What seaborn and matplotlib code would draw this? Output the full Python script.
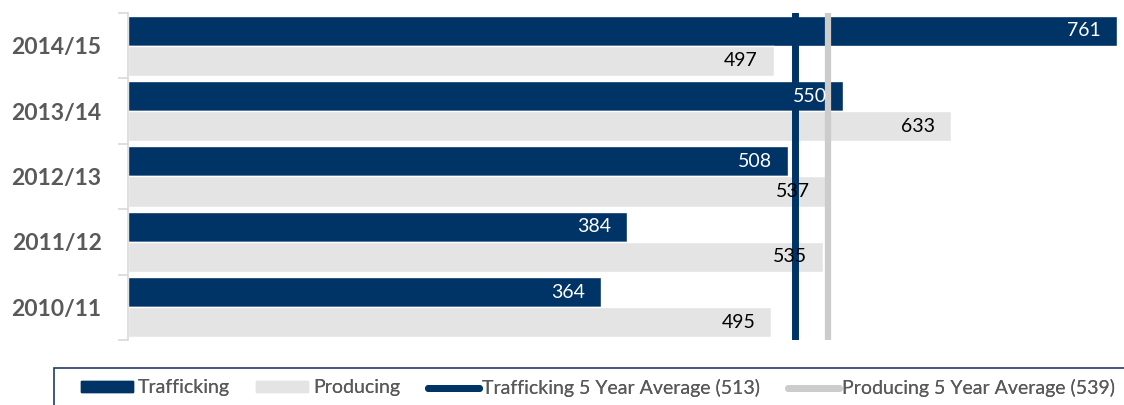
import matplotlib
matplotlib.use("Agg")
import matplotlib.pyplot as plt
import seaborn as sns
import pandas as pd
import numpy as np
from matplotlib.patches import Patch, Rectangle
from matplotlib.lines import Line2D

years = ["2014/15", "2013/14", "2012/13", "2011/12", "2010/11"]
trafficking = [761, 550, 508, 384, 364]
producing = [497, 633, 537, 535, 495]
series = ["Trafficking", "Producing"]
traff_avg = 513
prod_avg = 539
legend_labels = ["Trafficking", "Producing",
                 "Trafficking 5 Year Average (513)", "Producing 5 Year Average (539)"]

NAVY = "#003366"
LGRAY = "#e4e4e4"
AVGGRAY = "#cccccc"
TXT = "#595959"

df = pd.DataFrame({
    "year": years * 2,
    "value": trafficking + producing,
    "series": [series[0]] * len(years) + [series[1]] * len(years),
})

sns.set_theme(style="white")
plt.rcParams["font.family"] = ["Lato", "DejaVu Sans"]

W, H = 1124, 405
fig = plt.figure(figsize=(W / 100, H / 100), dpi=100)
ax = fig.add_axes([128 / W, 1 - 340 / H, (1117 - 128) / W, (340 - 13) / H])

sns.barplot(data=df, y="year", x="value", hue="series", order=years,
            hue_order=series, palette=[NAVY, LGRAY], orient="h",
            width=0.92, ax=ax, legend=False, saturation=1)

for cont, col in zip(ax.containers, ["white", "black"]):
    for bar, v in zip(cont.patches, cont.datavalues):
        ax.annotate(f"{int(v)}", xy=(bar.get_x() + bar.get_width(), bar.get_y() + bar.get_height() / 2),
                    xytext=(-11.5, 0), textcoords="offset points", ha="right", va="center",
                    color=col, fontsize=14, zorder=10)

ax.axvline(traff_avg, color=NAVY, lw=5, solid_capstyle="round", zorder=5)
ax.axvline(prod_avg, color=AVGGRAY, lw=4.5, solid_capstyle="round", zorder=4)

ax.set_xlim(0, 761)
ax.set_ylim(4.5, -0.5)
ax.set_xlabel("")
ax.set_ylabel("")
ax.set_xticks([])
for s in ["top", "right", "bottom"]:
    ax.spines[s].set_visible(False)
ax.spines["left"].set_color("#d9d9d9")
ax.spines["left"].set_linewidth(1.2)
ax.set_yticks(range(len(years)))
ax.set_yticklabels(years, fontsize=16.5, fontweight="bold", color=TXT)
ax.tick_params(axis="y", which="major", left=True, length=0, pad=19)
ax.set_yticks(np.arange(-0.5, len(years), 1.0), minor=True)
ax.tick_params(axis="y", which="minor", left=True, length=7, width=1.2,
               color="#d9d9d9", direction="out")

# legend frame
fig.add_artist(Rectangle((54 / W, -0.05), 1.1, (1 - 368 / H) + 0.05, transform=fig.transFigure,
                         facecolor="white", edgecolor="#1f3c66", lw=1.2))

handles = [
    Patch(facecolor=NAVY, edgecolor=NAVY),
    Patch(facecolor=LGRAY, edgecolor=LGRAY),
    Line2D([0], [0], color=NAVY, lw=5, solid_capstyle="round"),
    Line2D([0], [0], color=AVGGRAY, lw=5, solid_capstyle="round"),
]
item_x = [81, 256, 428, 788]
item_len = [2.67, 2.67, 2.6, 2.6]
item_pad = [0.27, 0.27, 0.17, 0.17]
for h, lab, x0, hl, tp in zip(handles, legend_labels, item_x, item_len, item_pad):
    leg = fig.legend([h], [lab], loc="center left", bbox_to_anchor=(x0 / W, 1 - 388 / H),
                     frameon=False, fontsize=14, handlelength=hl, handleheight=0.55,
                     handletextpad=tp, borderaxespad=0, borderpad=0)
    for t in leg.get_texts():
        t.set_color(TXT)
    fig.add_artist(leg)

fig.savefig("out.png", dpi=100)
